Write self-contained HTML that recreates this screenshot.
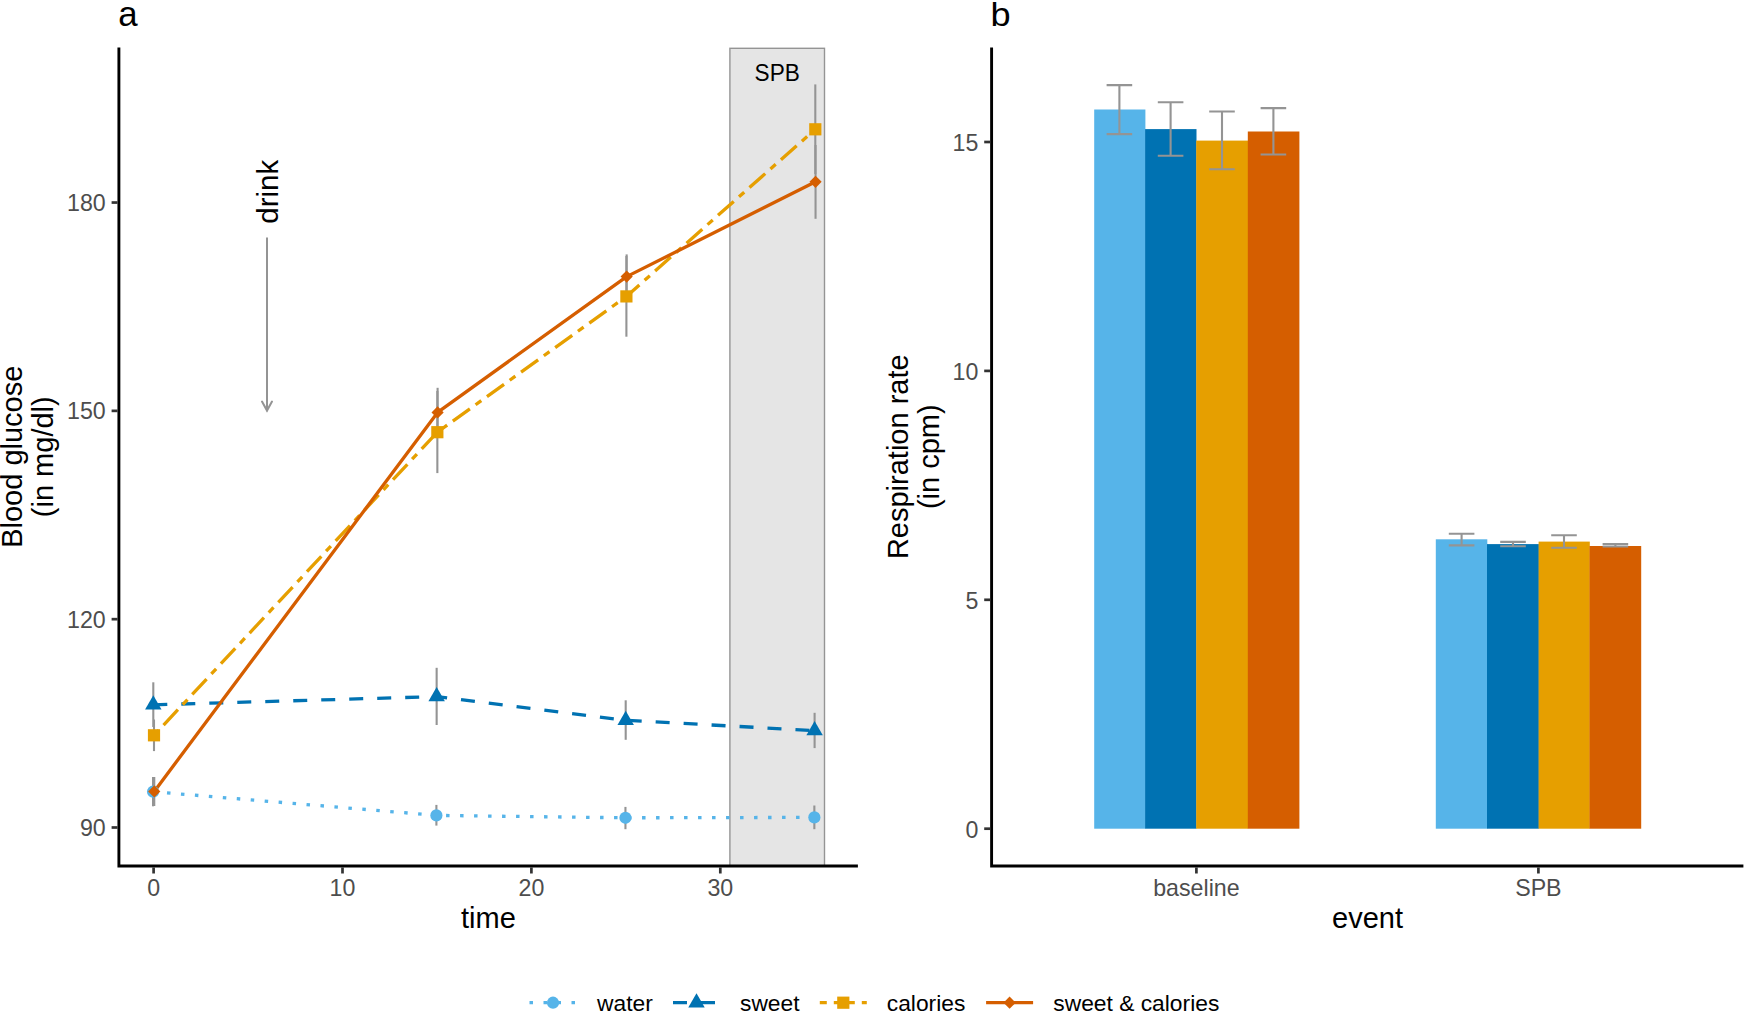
<!DOCTYPE html>
<html lang="en"><head><meta charset="utf-8"><title>Figure</title>
<style>html,body{margin:0;padding:0;background:#fff;}body{width:1745px;height:1013px;overflow:hidden;font-family:"Liberation Sans",sans-serif;}svg{display:block;}</style>
</head><body>
<svg width="1745" height="1013" viewBox="0 0 1745 1013" font-family="'Liberation Sans', sans-serif">
<rect x="0" y="0" width="1745" height="1013" fill="#ffffff"/>
<text x="118.3" y="26.2" font-size="34.8" fill="#000">a</text>
<text transform="translate(990.4,26.2) scale(1.07,1)" font-size="33.8" fill="#000">b</text>
<rect x="729.9" y="48.3" width="94.60000000000002" height="817.7" fill="#E5E5E5" stroke="#949494" stroke-width="1.4"/>
<text transform="translate(777.20,80.5) scale(1,1.04)" font-size="22.6" text-anchor="middle" fill="#000">SPB</text>
<text transform="translate(278.1,191.8) rotate(-90)" font-size="29.5" text-anchor="middle" fill="#000">drink</text>
<g stroke="#949494" stroke-width="2" fill="none" stroke-linecap="butt"><line x1="267" y1="237.4" x2="267" y2="411.2"/><polyline points="262,401.6 267,410.6 272,401.6" stroke-linejoin="miter" stroke-linecap="round"/></g>
<g stroke="#949494" stroke-width="2.1" fill="none">
<line x1="153.05" y1="777" x2="153.05" y2="806.3"/>
<line x1="436.4" y1="804.9" x2="436.4" y2="825.6"/>
<line x1="625.45" y1="806.9" x2="625.45" y2="829.2"/>
<line x1="814.35" y1="805.5" x2="814.35" y2="829.2"/>
<line x1="153.3" y1="682.3" x2="153.3" y2="727"/>
<line x1="436.65" y1="667.8" x2="436.65" y2="725"/>
<line x1="625.7" y1="700.3" x2="625.7" y2="739.8"/>
<line x1="814.6" y1="712.8" x2="814.6" y2="748.1"/>
<line x1="154.0" y1="719.5" x2="154.0" y2="751.1"/>
<line x1="437.35" y1="391" x2="437.35" y2="473.1"/>
<line x1="626.4" y1="256" x2="626.4" y2="336.7"/>
<line x1="815.3" y1="84.4" x2="815.3" y2="174"/>
<line x1="154.25" y1="777" x2="154.25" y2="806"/>
<line x1="437.6" y1="387.8" x2="437.6" y2="437"/>
<line x1="626.65" y1="254.4" x2="626.65" y2="299"/>
<line x1="815.55" y1="145" x2="815.55" y2="218.8"/>
</g>
<polyline points="153.05,791.7 436.4,815.4 625.45,817.8 814.35,817.4" fill="none" stroke="#56B4E9" stroke-width="3.3" stroke-linejoin="round" stroke-dasharray="3.5 10.5"/>
<polyline points="153.3,704.8 436.65,696.6 625.7,720.3 814.6,730.6" fill="none" stroke="#0072B2" stroke-width="3.3" stroke-linejoin="round" stroke-dasharray="14.0 14.0"/>
<polyline points="154.0,735.3 437.35,432.2 626.4,296.4 815.3,129.3" fill="none" stroke="#E69F00" stroke-width="3.3" stroke-linejoin="round" stroke-dasharray="7.0 7.0 21.0 7.0"/>
<polyline points="154.25,791.4 437.6,412.4 626.65,276.6 815.55,181.8" fill="none" stroke="#D55E00" stroke-width="3.3" stroke-linejoin="round"/>
<circle cx="153.05" cy="791.7" r="6.1" fill="#56B4E9"/>
<circle cx="436.4" cy="815.4" r="6.1" fill="#56B4E9"/>
<circle cx="625.45" cy="817.8" r="6.1" fill="#56B4E9"/>
<circle cx="814.35" cy="817.4" r="6.1" fill="#56B4E9"/>
<polygon points="153.3,695.31 161.52,709.54 145.08,709.54" fill="#0072B2"/>
<polygon points="436.65,687.11 444.87,701.34 428.43,701.34" fill="#0072B2"/>
<polygon points="625.7,710.81 633.92,725.04 617.48,725.04" fill="#0072B2"/>
<polygon points="814.6,721.11 822.82,735.34 806.38,735.34" fill="#0072B2"/>
<rect x="147.9" y="729.1999999999999" width="12.2" height="12.2" fill="#E69F00"/>
<rect x="431.25" y="426.09999999999997" width="12.2" height="12.2" fill="#E69F00"/>
<rect x="620.3" y="290.29999999999995" width="12.2" height="12.2" fill="#E69F00"/>
<rect x="809.1999999999999" y="123.20000000000002" width="12.2" height="12.2" fill="#E69F00"/>
<polygon points="154.25,785.3 160.35,791.4 154.25,797.5 148.15,791.4" fill="#D55E00"/>
<polygon points="437.6,406.29999999999995 443.70000000000005,412.4 437.6,418.5 431.5,412.4" fill="#D55E00"/>
<polygon points="626.65,270.5 632.75,276.6 626.65,282.70000000000005 620.55,276.6" fill="#D55E00"/>
<polygon points="815.55,175.70000000000002 821.65,181.8 815.55,187.9 809.4499999999999,181.8" fill="#D55E00"/>
<polyline points="118.9,47.5 118.9,866.0 857.9,866.0" stroke="#000" stroke-width="2.9" fill="none" stroke-linecap="butt" stroke-linejoin="miter"/>
<line x1="111.60000000000001" y1="827.5" x2="117.60000000000001" y2="827.5" stroke="#333333" stroke-width="2.7"/>
<text x="105.7" y="836.0" font-size="23.2" text-anchor="end" fill="#4D4D4D">90</text>
<line x1="111.60000000000001" y1="619.1800000000001" x2="117.60000000000001" y2="619.1800000000001" stroke="#333333" stroke-width="2.7"/>
<text x="105.7" y="627.7" font-size="23.2" text-anchor="end" fill="#4D4D4D">120</text>
<line x1="111.60000000000001" y1="410.86" x2="117.60000000000001" y2="410.86" stroke="#333333" stroke-width="2.7"/>
<text x="105.7" y="419.4" font-size="23.2" text-anchor="end" fill="#4D4D4D">150</text>
<line x1="111.60000000000001" y1="202.53999999999996" x2="117.60000000000001" y2="202.53999999999996" stroke="#333333" stroke-width="2.7"/>
<text x="105.7" y="211.0" font-size="23.2" text-anchor="end" fill="#4D4D4D">180</text>
<line x1="153.6" y1="867.4" x2="153.6" y2="873.5" stroke="#333333" stroke-width="2.7"/>
<text x="153.6" y="895.6" font-size="23.2" text-anchor="middle" fill="#4D4D4D">0</text>
<line x1="342.5" y1="867.4" x2="342.5" y2="873.5" stroke="#333333" stroke-width="2.7"/>
<text x="342.5" y="895.6" font-size="23.2" text-anchor="middle" fill="#4D4D4D">10</text>
<line x1="531.4" y1="867.4" x2="531.4" y2="873.5" stroke="#333333" stroke-width="2.7"/>
<text x="531.4" y="895.6" font-size="23.2" text-anchor="middle" fill="#4D4D4D">20</text>
<line x1="720.3000000000001" y1="867.4" x2="720.3000000000001" y2="873.5" stroke="#333333" stroke-width="2.7"/>
<text x="720.3000000000001" y="895.6" font-size="23.2" text-anchor="middle" fill="#4D4D4D">30</text>
<text x="488.4" y="928" font-size="29" text-anchor="middle" fill="#000">time</text>
<text transform="translate(22.2,456.75) rotate(-90)" font-size="29" text-anchor="middle" fill="#000">Blood glucose</text>
<text transform="translate(53,456.75) rotate(-90)" font-size="29" text-anchor="middle" fill="#000">(in mg/dl)</text>
<rect x="1094.2" y="109.5" width="51.2" height="719.2" fill="#56B4E9"/>
<rect x="1145.1" y="129.1" width="51.4" height="699.6" fill="#0072B2"/>
<rect x="1196.2" y="140.6" width="51.9" height="688.1" fill="#E69F00"/>
<rect x="1247.8" y="131.5" width="51.6" height="697.2" fill="#D55E00"/>
<rect x="1435.8" y="539.3" width="51.5" height="289.4" fill="#56B4E9"/>
<rect x="1487.0" y="544.1" width="51.9" height="284.6" fill="#0072B2"/>
<rect x="1538.6" y="541.6" width="51.2" height="287.1" fill="#E69F00"/>
<rect x="1589.5" y="546.0" width="51.7" height="282.7" fill="#D55E00"/>
<g stroke="#949494" stroke-width="2.1" fill="none">
<path d="M1106.6000000000001,85.1H1132.2M1106.6000000000001,134.1H1132.2M1119.4,85.1V134.1"/>
<path d="M1157.8,102.3H1183.3999999999999M1157.8,155.8H1183.3999999999999M1170.6,102.3V155.8"/>
<path d="M1209.2,111.5H1234.8M1209.2,169.3H1234.8M1222.0,111.5V169.3"/>
<path d="M1260.6000000000001,108.1H1286.2M1260.6000000000001,154.5H1286.2M1273.4,108.1V154.5"/>
<path d="M1448.8,533.8H1474.3999999999999M1448.8,545.4H1474.3999999999999M1461.6,533.8V545.4"/>
<path d="M1500.2,541.9H1525.8M1500.2,546.2H1525.8M1513.0,541.9V546.2"/>
<path d="M1551.2,535.2H1576.8M1551.2,547.8H1576.8M1564.0,535.2V547.8"/>
<path d="M1602.6000000000001,544.0H1628.2M1602.6000000000001,546.5H1628.2M1615.4,544.0V546.5"/>
</g>
<polyline points="991.6,47.5 991.6,866.0 1743.4,866.0" stroke="#000" stroke-width="2.9" fill="none" stroke-linecap="butt" stroke-linejoin="miter"/>
<line x1="984.2" y1="828.7" x2="990.2" y2="828.7" stroke="#333333" stroke-width="2.7"/>
<text x="978.3" y="837.5" font-size="23.2" text-anchor="end" fill="#4D4D4D">0</text>
<line x1="984.2" y1="599.8000000000001" x2="990.2" y2="599.8000000000001" stroke="#333333" stroke-width="2.7"/>
<text x="978.3" y="608.6" font-size="23.2" text-anchor="end" fill="#4D4D4D">5</text>
<line x1="984.2" y1="370.90000000000003" x2="990.2" y2="370.90000000000003" stroke="#333333" stroke-width="2.7"/>
<text x="978.3" y="379.7" font-size="23.2" text-anchor="end" fill="#4D4D4D">10</text>
<line x1="984.2" y1="142.0" x2="990.2" y2="142.0" stroke="#333333" stroke-width="2.7"/>
<text x="978.3" y="150.8" font-size="23.2" text-anchor="end" fill="#4D4D4D">15</text>
<line x1="1196.4" y1="867.4" x2="1196.4" y2="873.5" stroke="#333333" stroke-width="2.7"/>
<text x="1196.4" y="895.9" font-size="23.2" text-anchor="middle" fill="#4D4D4D">baseline</text>
<line x1="1538.4" y1="867.4" x2="1538.4" y2="873.5" stroke="#333333" stroke-width="2.7"/>
<text x="1538.4" y="895.9" font-size="23.2" text-anchor="middle" fill="#4D4D4D">SPB</text>
<text x="1367.5" y="928" font-size="29" text-anchor="middle" fill="#000">event</text>
<text transform="translate(908.3,456.75) rotate(-90)" font-size="29" text-anchor="middle" fill="#000">Respiration rate</text>
<text transform="translate(939.1,456.75) rotate(-90)" font-size="29" text-anchor="middle" fill="#000">(in cpm)</text>
<line x1="529.5" y1="1002.7" x2="576.5" y2="1002.7" stroke="#56B4E9" stroke-width="3.3" stroke-dasharray="3.5 10.5"/>
<circle cx="553.0" cy="1002.7" r="6.1" fill="#56B4E9"/>
<text x="597.0" y="1010.7" font-size="22.8" fill="#000">water</text>
<line x1="673.0" y1="1002.7" x2="720.0" y2="1002.7" stroke="#0072B2" stroke-width="3.3" stroke-dasharray="14.0 14.0"/>
<polygon points="696.5,993.21 704.72,1007.44 688.28,1007.44" fill="#0072B2"/>
<text x="740.0" y="1010.7" font-size="22.8" fill="#000">sweet</text>
<line x1="819.8" y1="1002.7" x2="866.8" y2="1002.7" stroke="#E69F00" stroke-width="3.3" stroke-dasharray="7.0 7.0 21.0 7.0"/>
<rect x="837.1999999999999" y="996.6" width="12.2" height="12.2" fill="#E69F00"/>
<text x="886.8" y="1010.7" font-size="22.8" fill="#000">calories</text>
<line x1="986.1" y1="1002.7" x2="1033.1" y2="1002.7" stroke="#D55E00" stroke-width="3.3"/>
<polygon points="1009.6,996.6 1015.7,1002.7 1009.6,1008.8000000000001 1003.5,1002.7" fill="#D55E00"/>
<text x="1053.3" y="1010.7" font-size="22.8" fill="#000">sweet &amp; calories</text>
</svg>
</body></html>
